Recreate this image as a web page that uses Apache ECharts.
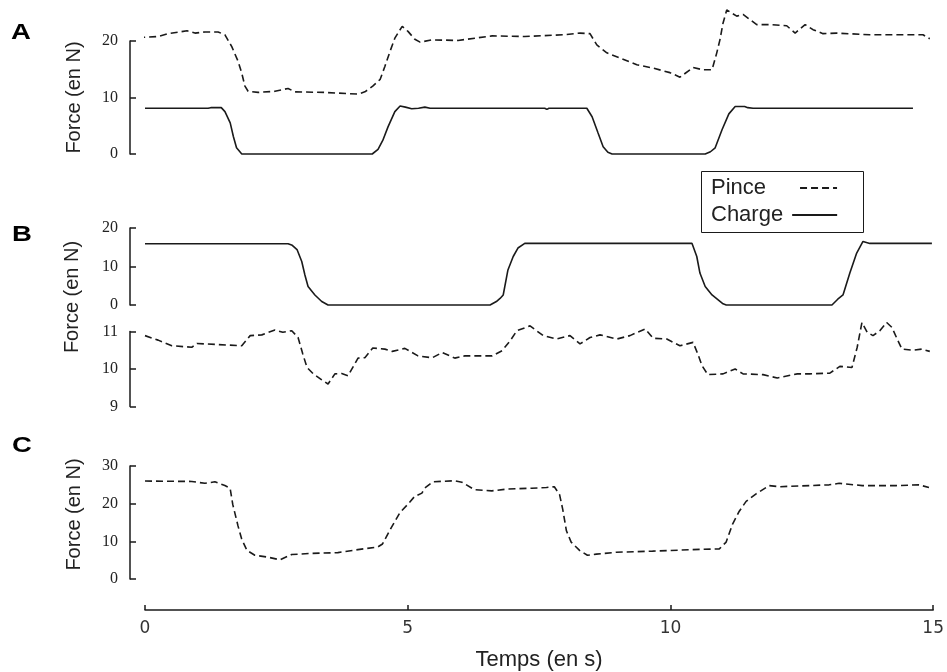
<!DOCTYPE html>
<html>
<head>
<meta charset="utf-8">
<script src="https://cdn.jsdelivr.net/npm/echarts@6/dist/echarts.min.js"></script>
<style>
  html, body { margin: 0; padding: 0; background: #fff; }
  #chart { width: 947px; height: 672px; }
</style>
</head>
<body>
<div id="chart"></div>
<script>
// Time samples [t (s), force (N)] for each trace
const pinceA = [
  [-0.13, 20.6], [0.25, 20.8], [0.44, 21.3], [0.8, 21.8], [0.95, 21.4], [1.14, 21.6], [1.39, 21.6],
  [1.52, 21.1], [1.65, 19.0], [1.77, 16.4], [1.84, 14.3], [1.9, 12.0], [1.96, 11.1], [2.15, 10.9],
  [2.47, 11.1], [2.72, 11.6], [2.85, 11.0], [3.42, 10.9], [4.05, 10.6], [4.18, 11.0], [4.33, 12.0],
  [4.47, 13.2], [4.56, 15.5], [4.66, 18.2], [4.75, 20.5], [4.89, 22.6], [5.0, 21.7], [5.13, 20.3],
  [5.23, 19.8], [5.46, 20.2], [5.95, 20.1], [6.27, 20.5], [6.6, 20.9], [7.22, 20.8], [7.95, 21.1],
  [8.27, 21.4], [8.46, 21.3], [8.59, 19.3], [8.78, 17.9], [9.03, 17.0], [9.35, 15.8], [9.66, 15.2],
  [9.98, 14.4], [10.17, 13.6], [10.42, 15.3], [10.61, 14.9], [10.78, 14.9], [10.87, 17.9], [10.93, 20.2],
  [10.99, 23.2], [11.06, 25.5], [11.25, 24.4], [11.37, 24.7], [11.63, 22.9], [11.88, 22.9], [12.2, 22.7],
  [12.36, 21.4], [12.55, 22.9], [12.7, 22.0], [12.89, 21.3], [13.15, 21.4], [13.78, 21.1], [14.41, 21.1],
  [14.79, 21.1], [14.92, 20.4]
];

const chargeA = [
  [0, 8.1], [1.2, 8.1], [1.25, 8.2], [1.45, 8.2], [1.52, 7.5], [1.62, 5.5], [1.68, 3.1], [1.74, 1.1],
  [1.84, 0], [4.32, 0], [4.43, 0.8], [4.52, 2.4], [4.62, 4.8], [4.75, 7.5], [4.85, 8.5], [4.95, 8.3],
  [5.07, 8.0], [5.2, 8.1], [5.32, 8.3], [5.42, 8.1], [7.6, 8.1], [7.64, 7.9], [7.68, 8.1], [8.4, 8.1],
  [8.5, 6.6], [8.61, 3.8], [8.71, 1.3], [8.8, 0.3], [8.88, 0], [10.65, 0], [10.75, 0.4], [10.84, 1.1],
  [10.97, 4.3], [11.1, 7.1], [11.22, 8.4], [11.4, 8.4], [11.46, 8.2], [11.56, 8.1], [13.86, 8.1],
  [13.88, 7.9], [13.9, 8.1], [14.24, 8.1], [14.26, 7.9], [14.28, 8.1], [14.6, 8.1]
];

const chargeB = [
  [0, 15.9], [2.72, 15.9], [2.8, 15.5], [2.89, 14.4], [2.98, 11.3], [3.04, 7.8], [3.1, 4.8], [3.23, 2.6],
  [3.36, 0.9], [3.48, 0], [6.56, 0], [6.68, 0.9], [6.75, 1.7], [6.81, 2.6], [6.9, 9.1], [7.0, 12.6],
  [7.09, 14.8], [7.22, 16.0], [10.4, 16.0], [10.49, 12.6], [10.55, 8.3], [10.65, 4.8], [10.78, 2.6],
  [10.99, 0.3], [11.05, 0], [13.06, 0], [13.17, 1.5], [13.27, 2.6], [13.4, 8.3], [13.53, 13.5],
  [13.65, 16.5], [13.78, 16.0], [14.96, 16.0]
];

const pinceB = [
  [0, 10.89], [0.25, 10.77], [0.51, 10.62], [0.89, 10.58], [0.99, 10.68], [1.84, 10.62], [2.0, 10.89],
  [2.22, 10.91], [2.47, 11.04], [2.62, 10.98], [2.79, 11.02], [2.91, 10.84], [3.0, 10.4], [3.08, 10.04],
  [3.2, 9.87], [3.36, 9.71], [3.48, 9.6], [3.61, 9.87], [3.74, 9.88], [3.86, 9.82], [4.05, 10.29],
  [4.18, 10.3], [4.33, 10.56], [4.56, 10.53], [4.7, 10.47], [4.94, 10.55], [5.19, 10.35], [5.46, 10.3],
  [5.65, 10.44], [5.89, 10.29], [6.08, 10.35], [6.6, 10.35], [6.79, 10.49], [6.94, 10.75], [7.07, 11.02],
  [7.32, 11.15], [7.57, 10.89], [7.83, 10.8], [8.08, 10.89], [8.27, 10.67], [8.46, 10.84], [8.65, 10.91],
  [8.97, 10.8], [9.22, 10.89], [9.51, 11.07], [9.66, 10.82], [9.92, 10.8], [10.17, 10.62], [10.42, 10.71],
  [10.51, 10.4], [10.59, 10.09], [10.7, 9.85], [10.99, 9.87], [11.22, 10.0], [11.37, 9.87], [11.75, 9.85],
  [12.02, 9.76], [12.4, 9.87], [12.64, 9.87], [13.02, 9.89], [13.21, 10.07], [13.44, 10.04], [13.54, 10.58],
  [13.63, 11.24], [13.73, 10.98], [13.84, 10.89], [13.97, 11.02], [14.1, 11.24], [14.2, 11.11], [14.3, 10.8],
  [14.39, 10.53], [14.6, 10.5], [14.77, 10.53], [14.92, 10.47]
];

const pinceC = [
  [0, 26.0], [0.89, 25.9], [1.14, 25.4], [1.33, 25.8], [1.52, 24.8], [1.62, 24.1], [1.67, 19.8], [1.77, 14.1],
  [1.84, 10.6], [1.94, 7.6], [2.09, 6.3], [2.34, 5.8], [2.57, 5.1], [2.79, 6.5], [3.17, 6.8], [3.67, 7.0],
  [4.05, 7.8], [4.43, 8.5], [4.52, 9.3], [4.69, 13.7], [4.85, 17.6], [5.0, 19.8], [5.13, 21.9], [5.27, 22.8],
  [5.32, 24.1], [5.48, 25.8], [5.89, 26.1], [6.03, 25.7], [6.27, 23.7], [6.6, 23.4], [6.9, 23.9], [7.36, 24.1],
  [7.64, 24.3], [7.79, 24.5], [7.89, 22.4], [7.95, 18.5], [8.02, 12.8], [8.11, 9.8], [8.27, 7.6], [8.42, 6.3],
  [8.59, 6.6], [8.97, 7.1], [9.66, 7.4], [10.42, 7.8], [10.93, 8.0], [11.06, 9.8], [11.18, 14.5], [11.31, 18.0],
  [11.44, 20.6], [11.63, 22.6], [11.88, 24.8], [12.07, 24.5], [13.02, 25.0], [13.21, 25.4], [13.65, 24.8],
  [14.3, 24.8], [14.73, 25.0], [14.92, 24.3]
];

// Axis settings
const timeRange = [0, 15];
const timeTicks = 5;
const yRangeA = [0, 20], yStepA = 10;
const yRangeB1 = [0, 20], yStepB1 = 10;
const yRangeB2 = [9, 11], yStepB2 = 1;
const yRangeC = [0, 30], yStepC = 10;

const INK = '#1a1a1a';
const SANS = '"Liberation Sans", Arial, sans-serif';
const SERIF = '"Liberation Serif", "Times New Roman", serif';

const dashed = { color: INK, width: 1.6, type: [7, 4] };
const solid = { color: INK, width: 1.6, type: 'solid' };

function hiddenX(gi) {
  return { gridIndex: gi, type: 'value', min: timeRange[0], max: timeRange[1], show: false };
}

function yAxisFor(gi, range, step, extra) {
  return Object.assign({
    gridIndex: gi, type: 'value', min: range[0], max: range[1], interval: step,
    offset: 15,
    axisLine: { show: true, onZero: false, lineStyle: { color: INK, width: 1.5 } },
    axisTick: { show: true, inside: true, length: 6, lineStyle: { color: INK, width: 1.5 } },
    axisLabel: { color: '#222', fontFamily: SERIF, fontSize: 16, margin: 12 },
    splitLine: { show: false }
  }, extra || {});
}

const yName = {
  name: 'Force (en N)', nameLocation: 'middle', nameRotate: 90, nameGap: 46,
  nameTextStyle: { color: '#222', fontFamily: SANS, fontSize: 20 }
};

function lineSeries(name, xi, data, style) {
  return {
    name: name, type: 'line', xAxisIndex: xi, yAxisIndex: xi, data: data,
    symbol: 'none', showSymbol: false, clip: false, silent: true,
    itemStyle: { color: INK },
    lineStyle: style
  };
}

const panelLetter = (txt, x, y) => ({
  type: 'text', x: x, y: y, scaleX: 1.25,
  style: { text: txt, font: 'bold 22px ' + SANS, fill: '#000', textAlign: 'left', textVerticalAlign: 'middle' }
});

const legendText = (pad) => ({ color: '#222', fontFamily: SANS, fontSize: 22, lineHeight: 22, padding: pad });

const legendBase = {
  orient: 'vertical', align: 'right', padding: 0, itemHeight: 14, selectedMode: false,
  itemStyle: { opacity: 0 }
};

const chart = echarts.init(document.getElementById('chart'), null, { renderer: 'canvas' });
chart.setOption({
  animation: false,
  backgroundColor: '#fff',
  grid: [
    { left: 145, right: 13, top: 41, height: 113 },
    { left: 145, right: 13, top: 228, height: 77 },
    { left: 145, right: 13, top: 331.5, height: 75 },
    { left: 145, right: 13, top: 466, height: 115 }
  ],
  xAxis: [
    hiddenX(0), hiddenX(1), hiddenX(2),
    {
      gridIndex: 3, type: 'value', min: timeRange[0], max: timeRange[1], interval: timeTicks,
      offset: 31,
      axisLine: { show: true, onZero: false, lineStyle: { color: INK, width: 1.5 } },
      axisTick: { show: true, inside: true, length: 5, lineStyle: { color: INK, width: 1.5 } },
      axisLabel: { color: '#333', fontFamily: '"DejaVu Sans", sans-serif', fontSize: 17, margin: 10 },
      splitLine: { show: false },
      name: 'Temps (en s)', nameLocation: 'middle', nameGap: 39,
      nameTextStyle: { color: '#222', fontFamily: SANS, fontSize: 22 }
    }
  ],
  yAxis: [
    yAxisFor(0, yRangeA, yStepA, yName),
    yAxisFor(1, yRangeB1, yStepB1),
    yAxisFor(2, yRangeB2, yStepB2),
    yAxisFor(3, yRangeC, yStepC, Object.assign({}, yName, {
      nameTextStyle: Object.assign({}, yName.nameTextStyle, { padding: [0, 0, 0, 16] })
    }))
  ],
  legend: [
    Object.assign({}, legendBase, {
      data: ['Pince'], left: 711, top: 177, itemWidth: 37, textStyle: legendText([0, 29, 0, 0])
    }),
    Object.assign({}, legendBase, {
      data: ['Charge'], left: 711, top: 204, itemWidth: 45, textStyle: legendText([0, 4, 0, 0])
    })
  ],
  graphic: [
    { type: 'rect', shape: { x: 701.5, y: 171.5, width: 162, height: 61 },
      style: { fill: 'none', stroke: INK, lineWidth: 1 }, z: 0 },
    panelLetter('A', 11, 33),
    panelLetter('B', 12, 235),
    panelLetter('C', 12, 446),
    { type: 'text', x: 72, y: 297, rotation: Math.PI / 2,
      style: { text: 'Force (en N)', font: '20px ' + SANS, fill: '#222', textAlign: 'center', textVerticalAlign: 'middle' } }
  ],
  series: [
    lineSeries('Pince', 0, pinceA, dashed),
    lineSeries('Charge', 0, chargeA, solid),
    lineSeries('Charge', 1, chargeB, solid),
    lineSeries('Pince', 2, pinceB, dashed),
    lineSeries('Pince', 3, pinceC, dashed)
  ]
});
</script>
</body>
</html>
